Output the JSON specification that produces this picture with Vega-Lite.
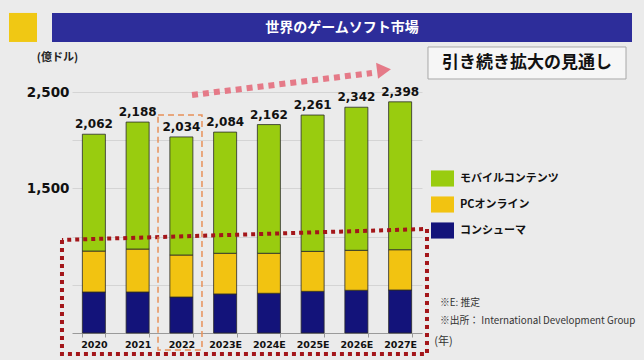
{
  "$schema": "https://vega.github.io/schema/vega-lite/v6.json",
  "autosize": "none",
  "width": 350,
  "height": 241,
  "padding": {"left": 72, "top": 92, "right": 222, "bottom": 27},
  "background": "#ebebeb",
  "config": {"view": {"stroke": null}, "font": "Noto Sans CJK JP"},
  "datasets": {
    "market": [
      {"year": "2020", "segment": "コンシューマ", "rank": 1, "value": 425},
      {"year": "2020", "segment": "PCオンライン", "rank": 2, "value": 425},
      {"year": "2020", "segment": "モバイルコンテンツ", "rank": 3, "value": 1212},
      {"year": "2021", "segment": "コンシューマ", "rank": 1, "value": 425},
      {"year": "2021", "segment": "PCオンライン", "rank": 2, "value": 446},
      {"year": "2021", "segment": "モバイルコンテンツ", "rank": 3, "value": 1317},
      {"year": "2022", "segment": "コンシューマ", "rank": 1, "value": 373},
      {"year": "2022", "segment": "PCオンライン", "rank": 2, "value": 436},
      {"year": "2022", "segment": "モバイルコンテンツ", "rank": 3, "value": 1225},
      {"year": "2023E", "segment": "コンシューマ", "rank": 1, "value": 405},
      {"year": "2023E", "segment": "PCオンライン", "rank": 2, "value": 422},
      {"year": "2023E", "segment": "モバイルコンテンツ", "rank": 3, "value": 1257},
      {"year": "2024E", "segment": "コンシューマ", "rank": 1, "value": 412},
      {"year": "2024E", "segment": "PCオンライン", "rank": 2, "value": 415},
      {"year": "2024E", "segment": "モバイルコンテンツ", "rank": 3, "value": 1335},
      {"year": "2025E", "segment": "コンシューマ", "rank": 1, "value": 432},
      {"year": "2025E", "segment": "PCオンライン", "rank": 2, "value": 415},
      {"year": "2025E", "segment": "モバイルコンテンツ", "rank": 3, "value": 1414},
      {"year": "2026E", "segment": "コンシューマ", "rank": 1, "value": 443},
      {"year": "2026E", "segment": "PCオンライン", "rank": 2, "value": 415},
      {"year": "2026E", "segment": "モバイルコンテンツ", "rank": 3, "value": 1484},
      {"year": "2027E", "segment": "コンシューマ", "rank": 1, "value": 446},
      {"year": "2027E", "segment": "PCオンライン", "rank": 2, "value": 418},
      {"year": "2027E", "segment": "モバイルコンテンツ", "rank": 3, "value": 1534}
    ],
    "banner": [{"bx": -0.457, "bx2": 12.8, "by": 3320, "by2": 3019}],
    "logo": [{"bx": -1.44, "bx2": -0.8, "by": 3320, "by2": 3019}],
    "bannerText": [{"bx": 6.171, "by": 3164, "label": "世界のゲームソフト市場"}],
    "headBox": [{"bx": 8.137, "bx2": 12.663, "by": 2967, "by2": 2635}],
    "headText": [{"bx": 10.4, "by": 2801, "label": "引き続き拡大の見通し"}],
    "arrowLine": [{"bx": 2.743, "by": 2469}, {"bx": 6.857, "by": 2697}],
    "arrowHead": [{"bx": 7.131, "by": 2728}],
    "redBox": [
      {"i": 0, "bx": -0.229, "by": 965},
      {"i": 1, "bx": -0.229, "by": -218},
      {"i": 2, "bx": 8.114, "by": -218},
      {"i": 3, "bx": 8.114, "by": 1079},
      {"i": 4, "bx": -0.229, "by": 965}
    ],
    "orangeBox": [{"bx": 1.966, "bx2": 2.971, "by": 2261, "by2": -176}],
    "notes": [
      {"bx": 8.411, "by": 311, "label": "※E: 推定"},
      {"bx": 8.411, "by": 124.5, "label": "※出所： International Development Group"}
    ]
  },
  "layer": [
    {
      "layer": [
        {
          "data": {"name": "market"},
          "mark": {"type": "bar", "stroke": "#2a2a2a", "strokeWidth": 0.8},
          "encoding": {
            "x": {
              "field": "year", "type": "nominal", "sort": null, "title": "(年)",
              "scale": {"paddingInner": 0.474, "paddingOuter": 0.237},
              "axis": {
                "domainColor": "#9a9a9a", "tickColor": "#9a9a9a", "tickSize": 4, "tickBand": "extent",
                "labelFont": "DejaVu Sans", "labelFontWeight": "bold", "labelFontSize": 9.5,
                "labelColor": "#111111", "labelPadding": 2, "labelAngle": 0,
                "titleX": 371, "titleY": 8, "titleAlign": "center", "titleBaseline": "middle",
                "titleFontWeight": "normal", "titleFontSize": 11, "titleColor": "#333333"
              }
            },
            "y": {
              "field": "value", "type": "quantitative", "stack": "zero", "title": "(億ドル)",
              "scale": {"domain": [0, 2500], "nice": false},
              "axis": {
                "values": [500, 1000, 1500, 2000, 2500], "format": ",d",
                "labelExpr": "datum.value == 1500 || datum.value == 2500 ? datum.label : ''",
                "grid": true, "gridColor": "#d4d4d4", "domain": false, "ticks": false,
                "labelFont": "DejaVu Sans", "labelFontWeight": "bold", "labelFontSize": 13.5,
                "labelColor": "#111111", "labelPadding": 3,
                "titleAngle": 0, "titleX": -15, "titleY": -35, "titleAlign": "center",
                "titleBaseline": "middle", "titleFontSize": 11, "titleFontWeight": "bold", "titleColor": "#222222"
              }
            },
            "color": {
              "field": "segment", "type": "nominal",
              "scale": {
                "domain": ["モバイルコンテンツ", "PCオンライン", "コンシューマ"],
                "range": ["#99cc0f", "#f2c311", "#13137a"]
              },
              "legend": {
                "title": null, "orient": "none", "legendX": 359, "legendY": 75, "padding": 0,
                "symbolType": "M-1,-0.7H1V0.7H-1Z", "symbolSize": 529, "symbolStrokeWidth": 0,
                "rowPadding": 6, "labelOffset": 6, "labelFontSize": 11, "labelFontWeight": "bold",
                "labelColor": "#111111", "labelFont": "Noto Sans CJK JP"
              }
            },
            "order": {"field": "rank", "type": "quantitative", "sort": "ascending"}
          }
        },
        {
          "data": {"name": "market"},
          "mark": {"type": "text", "dy": -10, "font": "DejaVu Sans", "fontWeight": "bold", "fontSize": 12, "color": "#111111"},
          "encoding": {
            "x": {"field": "year", "type": "nominal", "sort": null, "title": "(年)"},
            "y": {"aggregate": "sum", "field": "value", "type": "quantitative", "title": "(億ドル)"},
            "text": {"aggregate": "sum", "field": "value", "type": "quantitative", "format": ","}
          }
        }
      ]
    },
    {
      "layer": [
        {
          "data": {"name": "banner"},
          "mark": {"type": "rect", "color": "#2d2d9a"},
          "encoding": {
            "x": {"field": "bx", "type": "quantitative", "scale": {"domain": [0, 8], "nice": false, "zero": false}, "axis": null},
            "x2": {"field": "bx2"},
            "y": {"field": "by", "type": "quantitative", "scale": {"domain": [0, 2500], "nice": false, "zero": false}, "axis": null},
            "y2": {"field": "by2"}
          }
        },
        {
          "data": {"name": "logo"},
          "mark": {"type": "rect", "color": "#f0c814"},
          "encoding": {
            "x": {"field": "bx", "type": "quantitative"},
            "x2": {"field": "bx2"},
            "y": {"field": "by", "type": "quantitative"},
            "y2": {"field": "by2"}
          }
        },
        {
          "data": {"name": "bannerText"},
          "mark": {"type": "text", "color": "white", "fontWeight": "bold", "fontSize": 14, "font": "Noto Sans CJK JP"},
          "encoding": {
            "x": {"field": "bx", "type": "quantitative"},
            "y": {"field": "by", "type": "quantitative"},
            "text": {"field": "label"}
          }
        },
        {
          "data": {"name": "headBox"},
          "mark": {"type": "rect", "fill": "#f6f6f6", "stroke": "#a8a8a8", "strokeWidth": 1},
          "encoding": {
            "x": {"field": "bx", "type": "quantitative"},
            "x2": {"field": "bx2"},
            "y": {"field": "by", "type": "quantitative"},
            "y2": {"field": "by2"}
          }
        },
        {
          "data": {"name": "headText"},
          "mark": {"type": "text", "color": "#111111", "fontWeight": "bold", "fontSize": 17, "font": "Noto Sans CJK JP"},
          "encoding": {
            "x": {"field": "bx", "type": "quantitative"},
            "y": {"field": "by", "type": "quantitative"},
            "text": {"field": "label"}
          }
        },
        {
          "data": {"name": "arrowLine"},
          "mark": {"type": "line", "color": "#e57a88", "strokeWidth": 6, "strokeDash": [6, 5]},
          "encoding": {
            "x": {"field": "bx", "type": "quantitative"},
            "y": {"field": "by", "type": "quantitative"}
          }
        },
        {
          "data": {"name": "arrowHead"},
          "mark": {"type": "point", "shape": "triangle-right", "filled": true, "color": "#e57a88", "opacity": 1, "size": 260, "angle": -7},
          "encoding": {
            "x": {"field": "bx", "type": "quantitative"},
            "y": {"field": "by", "type": "quantitative"}
          }
        },
        {
          "data": {"name": "redBox"},
          "mark": {"type": "line", "color": "#a3161a", "strokeWidth": 4, "strokeDash": [4, 4]},
          "encoding": {
            "x": {"field": "bx", "type": "quantitative"},
            "y": {"field": "by", "type": "quantitative"},
            "order": {"field": "i"}
          }
        },
        {
          "data": {"name": "orangeBox"},
          "mark": {"type": "rect", "fill": null, "fillOpacity": 0, "stroke": "#e8915a", "strokeWidth": 1.5, "strokeDash": [6, 4]},
          "encoding": {
            "x": {"field": "bx", "type": "quantitative"},
            "x2": {"field": "bx2"},
            "y": {"field": "by", "type": "quantitative"},
            "y2": {"field": "by2"}
          }
        },
        {
          "data": {"name": "notes"},
          "mark": {"type": "text", "align": "left", "color": "#333333", "fontSize": 9.8, "font": "Noto Sans CJK JP"},
          "encoding": {
            "x": {"field": "bx", "type": "quantitative"},
            "y": {"field": "by", "type": "quantitative"},
            "text": {"field": "label"}
          }
        }
      ]
    }
  ],
  "resolve": {"scale": {"x": "independent", "y": "independent"}}
}
